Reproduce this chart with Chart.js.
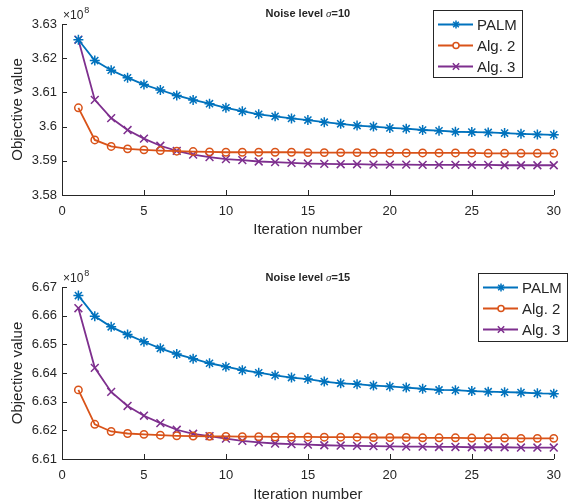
<!DOCTYPE html>
<html><head><meta charset="utf-8">
<script src="https://cdn.jsdelivr.net/npm/chart.js@4/dist/chart.umd.min.js"></script>
<style>
html,body{margin:0;padding:0;background:#fff;width:570px;height:504px;overflow:hidden}
canvas{position:absolute;left:0}
</style></head><body>
<canvas id="c1" width="570" height="252" style="top:0"></canvas>
<canvas id="c2" width="570" height="252" style="top:252px"></canvas>
<script>
// Data (objective values in units of 1e8)
const iterations = [1,2,3,4,5,6,7,8,9,10,11,12,13,14,15,16,17,18,19,20,21,22,23,24,25,26,27,28,29,30];
const seriesNames = ['PALM','Alg. 2','Alg. 3'];

const palm10 = [3.6254,3.6193,3.6165,3.6143,3.6123,3.6107,3.6091,3.6078,3.6067,3.6055,3.6045,3.6036,3.6030,3.6024,3.6019,3.6013,3.6008,3.6003,3.6000,3.5996,3.5994,3.5990,3.5988,3.5985,3.5984,3.5983,3.5981,3.5979,3.5977,3.5976];
const alg2_10 = [3.6055,3.5961,3.5942,3.5935,3.5932,3.5930,3.5928,3.5927,3.5926,3.5925,3.5925,3.5925,3.5925,3.5925,3.5924,3.5924,3.5924,3.5924,3.5923,3.5923,3.5923,3.5923,3.5923,3.5923,3.5923,3.5922,3.5922,3.5922,3.5922,3.5922];
const alg3_10 = [3.6254,3.6078,3.6025,3.5990,3.5965,3.5944,3.5929,3.5918,3.5911,3.5905,3.5902,3.5898,3.5896,3.5894,3.5892,3.5891,3.5890,3.5890,3.5889,3.5889,3.5889,3.5888,3.5888,3.5888,3.5888,3.5888,3.5887,3.5887,3.5887,3.5887];

const palm15 = [6.6670,6.6598,6.6561,6.6534,6.6509,6.6486,6.6466,6.6450,6.6434,6.6422,6.6410,6.6401,6.6392,6.6384,6.6379,6.6370,6.6364,6.6361,6.6356,6.6353,6.6349,6.6345,6.6341,6.6340,6.6337,6.6335,6.6333,6.6332,6.6329,6.6328];
const alg2_15 = [6.6341,6.6221,6.6196,6.6189,6.6186,6.6183,6.6181,6.6180,6.6179,6.6179,6.6178,6.6178,6.6177,6.6177,6.6177,6.6176,6.6176,6.6176,6.6175,6.6175,6.6175,6.6174,6.6174,6.6174,6.6173,6.6173,6.6173,6.6172,6.6172,6.6172];
const alg3_15 = [6.6626,6.6418,6.6334,6.6285,6.6251,6.6225,6.6202,6.6188,6.6180,6.6171,6.6163,6.6158,6.6154,6.6152,6.6150,6.6148,6.6147,6.6146,6.6145,6.6144,6.6143,6.6143,6.6142,6.6142,6.6141,6.6141,6.6141,6.6140,6.6140,6.6140];

const xTicks = [0,5,10,15,20,25,30];
const yTicks10 = [3.58,3.59,3.60,3.61,3.62,3.63];
const yTicks15 = [6.61,6.62,6.63,6.64,6.65,6.66,6.67];

const colors = ['#0072BD','#D95319','#7E2F8E'];
const styles = ['star','circle','crossRot'];
const radii = [5,3.7,5.5];
const legendRadii = [4,3,4.5];
const AX = '#262626';
const FONT = '"Liberation Sans", Arial, Helvetica, sans-serif';

function mkDatasets(arrs){
  return arrs.map((vals,i)=>({
    label: seriesNames[i],
    data: iterations.map((x,j)=>({x:x,y:vals[j]})),
    borderColor: colors[i],
    backgroundColor: colors[i],
    borderWidth: 1.8,
    pointStyle: styles[i],
    pointRadius: radii[i],
    pointBorderWidth: 1.5,
    pointBorderColor: colors[i],
    pointBackgroundColor: 'rgba(255,255,255,0)',
    tension: 0,
    clip: false
  }));
}

function decorPlugin(cfg){
  return {
    id:'decor',
    afterDraw(chart){
      const ctx = chart.ctx, ca = chart.chartArea;
      const xs = chart.scales.x, ys = chart.scales.y;
      ctx.save();
      // inward ticks
      ctx.strokeStyle = AX; ctx.lineWidth = 1;
      ctx.beginPath();
      xTicks.forEach(v=>{ const px = Math.round(xs.getPixelForValue(v))+0.5; ctx.moveTo(px, ca.bottom); ctx.lineTo(px, ca.bottom-5); });
      cfg.yTicks.forEach(v=>{ const py = Math.round(ys.getPixelForValue(v))+0.5; ctx.moveTo(ca.left, py); ctx.lineTo(ca.left+5, py); });
      ctx.stroke();
      // exponent label
      ctx.fillStyle = AX;
      ctx.textBaseline = 'middle'; ctx.textAlign = 'left';
      ctx.font = '12px ' + FONT;
      ctx.fillText('\u00d710', ca.left+1, ca.top-8);
      const w = ctx.measureText('\u00d710').width;
      ctx.font = '9px ' + FONT;
      ctx.fillText('8', ca.left+1+w+1, ca.top-13);
      // title
      const parts = [['bold 11px '+FONT,'Noise level '],['italic 11px "Liberation Serif", serif','\u03c3'],['bold 11px '+FONT,'='+cfg.sigma]];
      let tw = 0;
      parts.forEach(p=>{ctx.font=p[0]; tw += ctx.measureText(p[1]).width;});
      let tx = (ca.left+ca.right)/2 - tw/2;
      parts.forEach(p=>{ctx.font=p[0]; ctx.fillText(p[1], tx, cfg.titleY); tx += ctx.measureText(p[1]).width;});
      // legend
      const b = cfg.legend;
      ctx.fillStyle = '#fff';
      ctx.fillRect(b.x, b.y, b.w, b.h);
      ctx.strokeStyle = AX; ctx.lineWidth = 1;
      ctx.strokeRect(b.x+0.5, b.y+0.5, b.w, b.h);
      seriesNames.forEach((name,i)=>{
        const ry = b.y + 14.5 + i*21;
        ctx.strokeStyle = colors[i]; ctx.lineWidth = 1.8;
        ctx.beginPath(); ctx.moveTo(b.x+5, ry); ctx.lineTo(b.x+40, ry); ctx.stroke();
        ctx.strokeStyle = colors[i];
        ctx.fillStyle = '#ffffff';
        ctx.lineWidth = 1.5;
        Chart.helpers.drawPoint(ctx, {pointStyle: styles[i], radius: legendRadii[i], borderWidth: 1.5, rotation: 0}, b.x+23, ry);
        ctx.fillStyle = AX;
        ctx.font = '15px ' + FONT;
        ctx.textBaseline = 'middle'; ctx.textAlign = 'left';
        ctx.fillText(name, b.x+44, ry+1);
      });
      ctx.restore();
    }
  };
}

function build(id, arrs, yTicks, cfg){
  const c = document.getElementById(id);
  return new Chart(c, {
    type: 'line',
    data: { datasets: mkDatasets(arrs) },
    options: {
      responsive: false,
      animation: false,
      events: [],
      layout: { padding: { top: cfg.padTop, right: 12, left: 0, bottom: 0 } },
      plugins: { legend: { display: false }, tooltip: { enabled: false }, title: { display: false } },
      scales: {
        x: {
          type: 'linear', min: 0, max: 30,
          afterBuildTicks: s => { s.ticks = xTicks.map(v=>({value:v})); },
          afterFit: s => { s.height = cfg.xH; },
          ticks: { color: AX, font: { size: 13, family: FONT }, padding: 9, maxRotation: 0, autoSkip: false },
          grid: { drawOnChartArea: false, drawTicks: false, color: AX },
          border: { display: true, color: AX, width: 1 },
          title: { display: true, text: 'Iteration number', color: AX, font: { size: 15, family: FONT }, padding: { top: 0, bottom: cfg.xTitlePad } }
        },
        y: {
          type: 'linear', min: yTicks[0], max: yTicks[yTicks.length-1],
          afterBuildTicks: s => { s.ticks = yTicks.map(v=>({value:v})); },
          afterFit: s => { s.width = 62; },
          ticks: { color: AX, font: { size: 13, family: FONT }, padding: 5, autoSkip: false,
                   callback: v => String(Number(v.toFixed(2))) },
          grid: { drawOnChartArea: false, drawTicks: false, color: AX },
          border: { display: true, color: AX, width: 1 },
          title: { display: true, text: 'Objective value', color: AX, font: { size: 15, family: FONT }, padding: { top: 9, bottom: 0 } }
        }
      }
    },
    plugins: [decorPlugin(Object.assign({yTicks: yTicks}, cfg))]
  });
}

build('c1', [palm10, alg2_10, alg3_10], yTicks10, {
  padTop: 24, xH: 57, xTitlePad: 13, sigma: '10', titleY: 14,
  legend: { x: 433, y: 10, w: 89, h: 67 }
});
build('c2', [palm15, alg2_15, alg3_15], yTicks15, {
  padTop: 35, xH: 45, xTitlePad: 0, sigma: '15', titleY: 26,
  legend: { x: 478, y: 21, w: 89, h: 68 }
});
</script>
</body></html>
